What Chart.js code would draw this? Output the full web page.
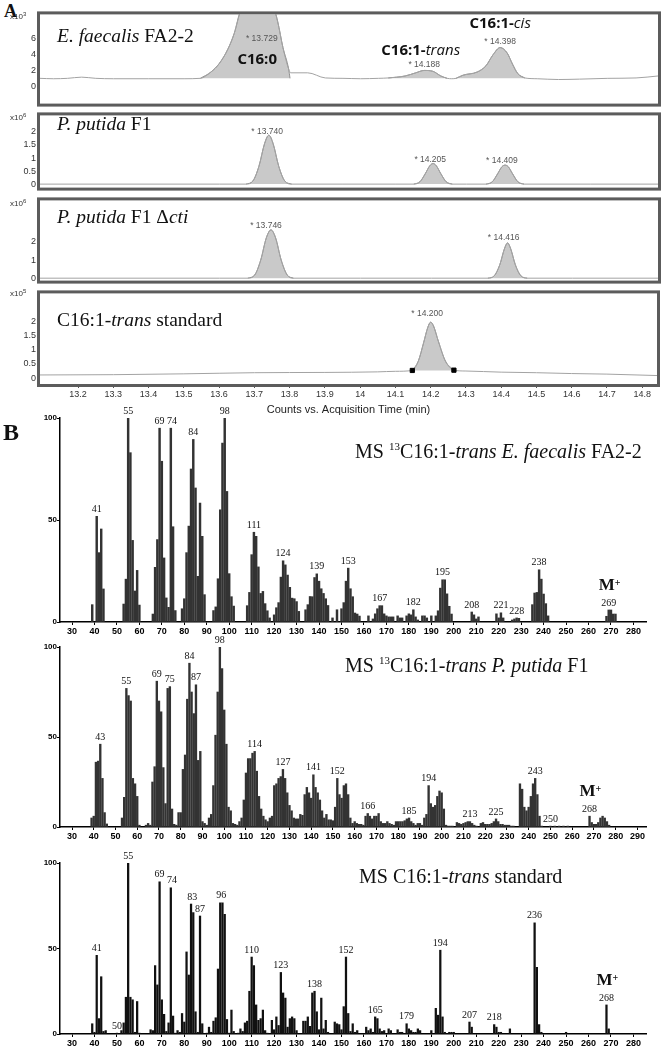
<!DOCTYPE html>
<html>
<head>
<meta charset="utf-8">
<title>GC-MS C16:1-trans</title>
<script src="https://cdn.jsdelivr.net/npm/chart.js@4.4.1/dist/chart.umd.min.js"></script>
<style>
  body { margin: 0; background: #fff; }
  #page { position: relative; width: 662px; height: 1050px; overflow: hidden; }
  canvas { position: absolute; left: 0; }
  .txt { position: absolute; white-space: nowrap; line-height: 1; color: #111; }
  .serif { font-family: "Liberation Serif", "DejaVu Serif", serif; }
  .panel { font-size: 19.5px; }
  .exp { font-family: "Liberation Sans", sans-serif; font-size: 8px; color: #333; }
  .exp sup { font-size: 6px; position: relative; top: -3px; vertical-align: baseline; }
  .ms { font-size: 20px; }
  .ms sup { font-size: 11px; position: relative; top: -8px; vertical-align: baseline; }
</style>
</head>
<body>
<div id="page">
  <div class="txt serif" style="left:4px;top:2px;font-size:18px;font-weight:bold">A</div>

  <canvas id="cA1" width="662" height="102" style="top:8px"></canvas>
  <canvas id="cA2" width="662" height="85" style="top:109px"></canvas>
  <canvas id="cA3" width="662" height="93" style="top:194px"></canvas>
  <canvas id="cA4" width="662" height="130" style="top:287px"></canvas>

  <div class="txt exp" style="left:10px;top:13px">x10<sup>3</sup></div>
  <div class="txt exp" style="left:10px;top:114px">x10<sup>6</sup></div>
  <div class="txt exp" style="left:10px;top:200px">x10<sup>6</sup></div>
  <div class="txt exp" style="left:10px;top:290px">x10<sup>5</sup></div>

  <div class="txt serif panel" style="left:57px;top:26px"><i>E. faecalis</i> FA2-2</div>
  <div class="txt serif panel" style="left:57px;top:114px"><i>P. putida</i> F1</div>
  <div class="txt serif panel" style="left:57px;top:207px"><i>P. putida</i> F1 &Delta;<i>cti</i></div>
  <div class="txt serif panel" style="left:57px;top:310px">C16:1-<i>trans</i> standard</div>

  <div class="txt serif" style="left:3px;top:420px;font-size:24px;font-weight:bold">B</div>

  <canvas id="cB1" width="662" height="250" style="top:398px"></canvas>
  <canvas id="cB2" width="662" height="215" style="top:632px"></canvas>
  <canvas id="cB3" width="662" height="205" style="top:845px"></canvas>

  <div class="txt serif ms" style="left:355px;top:441px">MS <sup>13</sup>C16:1-<i>trans E. faecalis</i> FA2-2</div>
  <div class="txt serif ms" style="left:345px;top:655px">MS <sup>13</sup>C16:1-<i>trans P. putida</i> F1</div>
  <div class="txt serif ms" style="left:359px;top:866px">MS C16:1-<i>trans</i> standard</div>
</div>

<script>
// ---- A: chromatograms, [time (min), counts] ----
const timeTicks = [13.2, 13.3, 13.4, 13.5, 13.6, 13.7, 13.8, 13.9, 14, 14.1, 14.2, 14.3, 14.4, 14.5, 14.6, 14.7, 14.8];

// E. faecalis FA2-2 (x10^3)
const efBase1 = [[13.092, 1.0], [13.13, 0.95], [13.17, 1.0], [13.21, 1.15], [13.25, 1.0], [13.3, 0.95], [13.4, 0.95], [13.5, 0.95]];
const efC160 = [[13.546, 1.0], [13.576, 1.8], [13.6, 2.9], [13.624, 4.7], [13.642, 6.7], [13.66, 9.6], [13.7, 12], [13.75, 10.5], [13.765, 8.2], [13.78, 4.9], [13.796, 2.2], [13.8, 1.0]];
const efBase2 = [[13.802, 1.7], [13.85, 1.7], [13.9, 1.05], [13.95, 1.0], [14.0, 0.95], [14.05, 1.0]];
const efTrans = [[14.078, 1.05], [14.126, 1.3], [14.156, 1.7], [14.18, 2.0], [14.204, 1.9], [14.227, 1.3], [14.245, 1.0]];
const efBase3 = [[14.258, 0.95]];
const efCis = [[14.27, 1.0], [14.29, 1.4], [14.33, 1.8], [14.355, 2.6], [14.375, 4.0], [14.395, 4.9], [14.415, 4.2], [14.43, 2.8], [14.445, 1.6], [14.465, 1.05]];
const efBase4 = [[14.5, 0.95], [14.56, 0.85], [14.62, 0.9], [14.7, 1.0], [14.78, 1.05], [14.842, 1.3]];
const efTicks = [0, 2, 4, 6];
const efNotes = [[13.72, 6.0, '* 13.729'], [14.18, 2.75, '* 14.188'], [14.395, 5.7, '* 14.398']];
const efNames = [[13.707, 3.3, 'C16:0', ''], [14.17, 4.5, 'C16:1-', 'trans'], [14.395, 7.9, 'C16:1-', 'cis']];

// P. putida F1 (x10^6)
const ppPeak1 = [[13.675, 0.03], [13.695, 0.15], [13.712, 0.7], [13.728, 1.55], [13.74, 1.86], [13.752, 1.55], [13.768, 0.7], [13.785, 0.15], [13.805, 0.03]];
const ppPeak2 = [[14.15, 0.03], [14.168, 0.12], [14.183, 0.42], [14.196, 0.72], [14.205, 0.8], [14.214, 0.72], [14.227, 0.42], [14.242, 0.12], [14.26, 0.03]];
const ppPeak3 = [[14.355, 0.03], [14.373, 0.12], [14.388, 0.42], [14.4, 0.68], [14.409, 0.74], [14.418, 0.68], [14.43, 0.42], [14.445, 0.12], [14.463, 0.03]];
const ppTicks = [0, 0.5, 1, 1.5, 2];
const ppNotes = [[13.735, 1.98, '* 13.740'], [14.197, 0.96, '* 14.205'], [14.4, 0.91, '* 14.409']];

// P. putida F1 delta-cti (x10^6)
const ctiPeak1 = [[13.68, 0.03], [13.7, 0.2], [13.717, 1.0], [13.733, 2.2], [13.746, 2.62], [13.759, 2.2], [13.775, 1.0], [13.792, 0.2], [13.81, 0.03]];
const ctiPeak2 = [[14.36, 0.03], [14.378, 0.15], [14.394, 0.75], [14.407, 1.6], [14.416, 1.92], [14.425, 1.6], [14.438, 0.75], [14.454, 0.15], [14.472, 0.03]];
const ctiTicks = [0, 1, 2];
const ctiNotes = [[13.732, 2.85, '* 13.746'], [14.405, 2.2, '* 14.416']];

// C16:1-trans standard (x10^5)
const stdBase1 = [[13.092, 0.11], [13.3, 0.12], [13.5, 0.15], [13.7, 0.19], [13.9, 0.2], [14.05, 0.22], [14.1, 0.24]];
const stdPeak = [[14.148, 0.27], [14.165, 0.6], [14.18, 1.25], [14.192, 1.8], [14.2, 1.98], [14.208, 1.85], [14.222, 1.3], [14.242, 0.6], [14.266, 0.28]];
const stdBase2 = [[14.3, 0.25], [14.4, 0.21], [14.5, 0.19], [14.6, 0.16], [14.7, 0.14], [14.842, 0.09]];
const stdMarks = [[14.148, 0.27], [14.266, 0.28]];
const stdTicks = [0, 0.5, 1, 1.5, 2];
const stdNotes = [[14.19, 2.3, '* 14.200']];

// ---- B: mass spectra, [m/z, relative abundance] ----
const mzTicks280 = [30, 40, 50, 60, 70, 80, 90, 100, 110, 120, 130, 140, 150, 160, 170, 180, 190, 200, 210, 220, 230, 240, 250, 260, 270, 280];
const mzTicks290 = [30, 40, 50, 60, 70, 80, 90, 100, 110, 120, 130, 140, 150, 160, 170, 180, 190, 200, 210, 220, 230, 240, 250, 260, 270, 280, 290];
const abundanceTicks = [0, 50, 100];

const efSpectrum = [[39, 8.5], [41, 51.8], [42, 34], [43, 45.6], [44, 16.2],
  [53, 8.8], [54, 21], [55, 100], [56, 83], [57, 40], [58, 15.2], [59, 25.3], [60, 8.3],
  [66, 3.9], [67, 26.8], [68, 40.4], [69, 95], [70, 78.8], [71, 31.4], [72, 11.8], [73, 7.2], [74, 95], [75, 46.7], [76, 5.6],
  [79, 6.5], [80, 11.4], [81, 34], [82, 47], [83, 75], [84, 89.5], [85, 65.7], [86, 22.4], [87, 58.3], [88, 42], [89, 13.4],
  [93, 5.6], [94, 7.4], [95, 21.2], [96, 55], [97, 87.7], [98, 100], [99, 64], [100, 23.7], [101, 12.4], [102, 7.8],
  [108, 8], [109, 14.5], [110, 33], [111, 44], [112, 42], [113, 27], [114, 14], [115, 15], [116, 9], [117, 5.5], [118, 2],
  [120, 3.5], [121, 7], [122, 9.5], [123, 22], [124, 30], [125, 28], [126, 23], [127, 17], [128, 11.7], [129, 11.4], [130, 10], [131, 5.2],
  [134, 6], [135, 8.5], [136, 12.5], [137, 12.4], [138, 21.8], [139, 23.6], [140, 20], [141, 16.3], [142, 14], [143, 11.4], [144, 8.1],
  [146, 2], [148, 6], [150, 6.5], [151, 9.5], [152, 20], [153, 26.4], [154, 16.3], [155, 12.4], [156, 4.4], [157, 3.9], [158, 2.9],
  [162, 3], [164, 1.5], [165, 4], [166, 6.5], [167, 8], [168, 8], [169, 4], [170, 3], [171, 2.5], [172, 2.5], [173, 2.5],
  [175, 3], [176, 2], [177, 2], [179, 3], [180, 4], [181, 3.5], [182, 6], [183, 2.5], [184, 1], [186, 3], [187, 3], [188, 2], [190, 3], [192, 3],
  [193, 5.5], [194, 16.6], [195, 20.7], [196, 20.7], [197, 13.8], [198, 7.7], [199, 3.9],
  [208, 4.9], [209, 3.5], [210, 1.5], [211, 2.5], [219, 4], [220, 2], [221, 4.5], [222, 2], [226, 1], [227, 1.5], [228, 2], [229, 1.8],
  [235, 8.5], [236, 14.2], [237, 14.5], [238, 25.6], [239, 21], [240, 13.7], [241, 9], [242, 3],
  [268, 2.8], [269, 5.9], [270, 5.9], [271, 3.9], [272, 3.9]];
const efLabels = [41, 55, 69, 74.5, 84, 98, 111, 124, 139, 153, 167, 182, 195, 208, 221, 228, 238, 269];
const efMolIon = 269;

const ppSpectrum = [[39, 5], [40, 6], [41, 36], [42, 36.6], [43, 46], [44, 27], [45, 8], [46, 1.7],
  [53, 5], [54, 16.5], [55, 77], [56, 73], [57, 70], [58, 27], [59, 24], [60, 17], [61, 1],
  [64, 1], [65, 2], [66, 1], [67, 25], [68, 33.5], [69, 81], [70, 70], [71, 64], [72, 33], [73, 13], [74, 77], [75, 78], [76, 10], [77, 1.5], [78, 1],
  [79, 8], [80, 8], [81, 32], [82, 40], [83, 71], [84, 91], [85, 75], [86, 63], [87, 79], [88, 37], [89, 42], [90, 3], [91, 2], [92, 1],
  [93, 5], [94, 7], [95, 23], [96, 51], [97, 75], [98, 100], [99, 88], [100, 65], [101, 46], [102, 11], [103, 9], [104, 2], [105, 1.5], [106, 1],
  [107, 3], [108, 5], [109, 15], [110, 30], [111, 38], [112, 38], [113, 41], [114, 42], [115, 31], [116, 17], [117, 10], [118, 6], [119, 4], [120, 3],
  [121, 5], [122, 6], [123, 23], [124, 24], [125, 27], [126, 28], [127, 32], [128, 27], [129, 19], [130, 12], [131, 9], [132, 5], [133, 4.5], [134, 4.5],
  [135, 7], [136, 6.5], [137, 18], [138, 22], [139, 19], [140, 16], [141, 29], [142, 22], [143, 19], [144, 15], [145, 9], [146, 5], [147, 7], [148, 4], [149, 4], [150, 3.5],
  [151, 11], [152, 27], [153, 18], [154, 16], [155, 23], [156, 24], [157, 18], [158, 5], [159, 2], [160, 3], [161, 2], [162, 1.5], [163, 1.5], [164, 1],
  [165, 6], [166, 7.5], [167, 6], [168, 4.5], [169, 6], [170, 6], [171, 7.5], [172, 3], [173, 2], [174, 2], [175, 3], [176, 2], [177, 1.5], [178, 1],
  [179, 3], [180, 3], [181, 3], [182, 3], [183, 3.5], [184, 4.5], [185, 5], [186, 3], [187, 2], [188, 1], [189, 2], [190, 2], [191, 1],
  [192, 5], [193, 7], [194, 23], [195, 13], [196, 11], [197, 12], [198, 17], [199, 20], [200, 19], [201, 10], [202, 1], [203, 0.5], [204, 0.5], [205, 0.5],
  [207, 2.5], [208, 2], [209, 1.5], [210, 2], [211, 2.5], [212, 3], [213, 3], [214, 2], [215, 1], [216, 0.5],
  [218, 2], [219, 2.5], [220, 1.5], [221, 1.5], [222, 1.5], [223, 2], [224, 3], [225, 4.5], [226, 3], [227, 1.5], [228, 1.5], [229, 1], [230, 1], [231, 1], [232, 0.5], [233, 0.5],
  [236, 24], [237, 21], [238, 11], [239, 9], [240, 11], [241, 17], [242, 24], [243, 27], [244, 18], [245, 6], [246, 0.5],
  [250, 0.5], [252, 0.5], [254, 0.5], [256, 0.5], [258, 0.5],
  [268, 6], [269, 2.5], [270, 1.5], [271, 1.5], [272, 2.5], [273, 5], [274, 6], [275, 5], [276, 3], [277, 1]];
const ppLabels = [43, 55, 69, 75, 84, 87, 98, 114, 127, 141, 152, 166, 185, 194, 213, 225, 243, 250, 268];
const ppMolIon = 268;

const stdSpectrum = [[39, 6], [40, 1], [41, 46], [42, 9], [43, 33.5], [44, 1.5], [45, 2],
  [50, 0.5], [52, 2], [53, 6.5], [54, 21.5], [55, 100], [56, 21.5], [57, 20], [58, 1], [59, 19], [60, 0.5],
  [65, 2.5], [66, 2], [67, 40], [68, 28.7], [69, 89], [70, 20], [71, 11.5], [72, 1.5], [73, 6.5], [74, 85.5], [75, 10.5], [76, 0.5], [77, 2], [78, 1],
  [79, 12], [80, 7], [81, 48], [82, 34.5], [83, 76], [84, 71], [85, 13], [86, 1], [87, 69], [88, 6],
  [90, 0.5], [91, 4], [92, 1], [93, 7.5], [94, 9.5], [95, 38], [96, 76.7], [97, 76.7], [98, 70], [99, 8.5], [100, 0.5], [101, 14], [102, 1.5],
  [104, 0.5], [105, 3], [106, 1.5], [107, 6.5], [108, 7.5], [109, 25], [110, 45], [111, 40], [112, 17], [113, 8], [114, 9], [115, 14], [116, 2], [117, 0.5],
  [119, 8], [120, 2.5], [121, 10], [122, 5], [123, 36], [124, 24], [125, 21], [126, 4], [127, 9], [128, 10], [129, 9], [130, 2],
  [133, 7.5], [134, 7.5], [135, 10], [136, 4.5], [137, 24], [138, 25], [139, 13], [140, 2.5], [141, 21], [142, 3], [143, 8], [144, 1],
  [147, 7], [148, 6], [149, 5.5], [150, 2.5], [151, 16], [152, 45], [153, 12], [154, 1.5], [155, 6], [156, 1], [157, 2],
  [161, 4], [162, 2], [163, 3], [164, 1], [165, 10], [166, 9], [167, 3], [168, 1.5], [169, 2], [171, 3], [172, 2],
  [175, 2.5], [176, 1], [177, 1], [179, 6], [180, 3], [181, 2], [182, 1], [183, 1], [184, 3], [185, 2], [190, 2],
  [192, 15], [193, 11], [194, 49], [195, 10], [196, 1], [198, 1], [199, 1], [200, 1],
  [207, 7], [208, 4], [218, 5.5], [219, 4], [220, 1], [221, 1], [225, 3],
  [236, 65], [237, 39], [238, 5.5], [239, 1], [250, 1], [268, 17], [269, 3]];
const stdLabels = [41, 50, 55, 69, 74.5, 83.5, 87, 96.5, 110, 123, 138, 152, 165, 179, 194, 207, 218, 236, 268];
const stdMolIon = 268;

function pts(list) {
    return list.map(p => ({ x: p[0], y: p[1] }));
}

const framePlugin = {
    id: 'frame',
    afterDraw(chart) {
        const { ctx, chartArea: a } = chart;
        ctx.save();
        ctx.strokeStyle = '#5c5c5c';
        ctx.lineWidth = 3;
        ctx.strokeRect(a.left - 1.5, a.top - 1.5, a.right - a.left + 3, a.bottom - a.top + 3);
        ctx.restore();
    }
};

// retention time notes and peak names, placed with the chart's own scales
function notesPlugin(notes, names) {
    return {
        id: 'notes',
        afterDatasetsDraw(chart) {
            const { ctx, scales: { x, y } } = chart;
            ctx.save();
            ctx.textBaseline = 'middle';
            ctx.textAlign = 'center';
            ctx.font = '8.5px "Liberation Sans", sans-serif';
            ctx.fillStyle = '#555';
            notes.forEach(n => ctx.fillText(n[2], x.getPixelForValue(n[0]), y.getPixelForValue(n[1])));
            const f1 = 'bold 15px "Open Sans", sans-serif';
            const f2 = 'italic 15px "Open Sans", sans-serif';
            ctx.textAlign = 'left';
            ctx.fillStyle = '#111';
            names.forEach(n => {
                ctx.font = f1;
                const w1 = ctx.measureText(n[2]).width;
                ctx.font = f2;
                const w2 = ctx.measureText(n[3]).width;
                const px = x.getPixelForValue(n[0]) - (w1 + w2) / 2;
                const py = y.getPixelForValue(n[1]);
                ctx.font = f1;
                ctx.fillText(n[2], px, py);
                ctx.font = f2;
                ctx.fillText(n[3], px + w1, py);
            });
            ctx.restore();
        }
    };
}

function traceSet(list) {
    return {
        data: pts(list), borderColor: '#a3a3a3', borderWidth: 1, pointRadius: 0,
        fill: false, cubicInterpolationMode: 'monotone', order: 1
    };
}

function peakSet(list, base) {
    return {
        data: pts(list), borderColor: '#8f8f8f', borderWidth: 1, pointRadius: 0,
        backgroundColor: '#c9c9c9', fill: { value: base }, cubicInterpolationMode: 'monotone', order: 2
    };
}

function chromChart(id, datasets, yMin, yMax, yTicks, notes, names, showX) {
    return new Chart(document.getElementById(id), {
        type: 'line',
        data: { datasets: datasets },
        options: {
            responsive: false,
            animation: false,
            devicePixelRatio: 1,
            layout: { padding: { top: 4, bottom: showX ? 0 : 4, left: 0, right: 4 } },
            plugins: { legend: { display: false }, tooltip: { enabled: false } },
            scales: {
                x: {
                    type: 'linear', min: 13.092, max: 14.842, display: showX,
                    afterBuildTicks: s => { s.ticks = timeTicks.map(v => ({ value: v })); },
                    afterFit: s => { s.height = showX ? 33 : 0; },
                    ticks: {
                        font: { family: 'Liberation Sans Narrow, Liberation Sans', size: 9 }, color: '#333',
                        padding: 1, maxRotation: 0, autoSkip: false,
                        callback: v => String(Math.round(v * 10) / 10)
                    },
                    grid: { drawOnChartArea: false, tickLength: 4, color: '#555' },
                    border: { display: false },
                    title: {
                        display: true, text: 'Counts vs. Acquisition Time (min)', color: '#222',
                        font: { family: 'Liberation Sans', size: 11 }, padding: { top: 1, bottom: 0 }
                    }
                },
                y: {
                    min: yMin, max: yMax,
                    afterBuildTicks: s => { s.ticks = yTicks.map(v => ({ value: v })); },
                    afterFit: s => { s.width = 40; },
                    ticks: {
                        font: { family: 'Liberation Sans', size: 9 }, color: '#333', padding: 1,
                        autoSkip: false, callback: v => String(v)
                    },
                    grid: { drawOnChartArea: false, tickLength: 3, color: '#555' },
                    border: { display: false }
                }
            }
        },
        plugins: [framePlugin, notesPlugin(notes, names)]
    });
}

// A1: E. faecalis
chromChart('cA1', [
    traceSet([...efBase1, ...efC160.slice(0, -1), ...efBase2, ...efTrans, ...efBase3, ...efCis, ...efBase4]),
    peakSet(efC160, 1.0), peakSet(efTrans, 1.0), peakSet(efCis, 1.0)
], -2.2, 9.1, efTicks, efNotes, efNames, false);

// A2: P. putida F1
chromChart('cA2', [
    traceSet([[13.092, 0.03], [13.6, 0.03], ...ppPeak1, [13.95, 0.03], [14.1, 0.03], ...ppPeak2, [14.3, 0.03], ...ppPeak3, [14.65, 0.03], [14.842, 0.03]]),
    peakSet(ppPeak1, 0.03), peakSet(ppPeak2, 0.03), peakSet(ppPeak3, 0.03)
], -0.1, 2.6, ppTicks, ppNotes, [], false);

// A3: P. putida F1 delta-cti
chromChart('cA3', [
    traceSet([[13.092, 0.03], [13.6, 0.03], ...ctiPeak1, [14.0, 0.03], [14.2, 0.03], ...ctiPeak2, [14.6, 0.03], [14.842, 0.03]]),
    peakSet(ctiPeak1, 0.03), peakSet(ctiPeak2, 0.03)
], -0.1, 4.2, ctiTicks, ctiNotes, [], false);

// A4: standard, with integration markers
chromChart('cA4', [
    traceSet([...stdBase1, ...stdPeak, ...stdBase2]),
    peakSet(stdPeak, 0.27),
    {
        data: pts(stdMarks), showLine: false, pointStyle: 'rect', pointRadius: 3,
        pointBackgroundColor: '#000', pointBorderColor: '#000', order: 0
    }
], -0.21, 3.0, stdTicks, stdNotes, [], true);

// peak m/z labels and molecular ion, placed on the bars through the scales
function peakLabelPlugin(spectrum, labels, molIon) {
    const heights = new Map(spectrum);
    const h = m => Math.max(heights.get(Math.floor(m)) || 0, heights.get(Math.ceil(m)) || 0);
    return {
        id: 'peakLabels',
        afterDatasetsDraw(chart) {
            const { ctx, scales: { x, y } } = chart;
            ctx.save();
            ctx.fillStyle = '#111';
            ctx.textAlign = 'center';
            ctx.textBaseline = 'bottom';
            ctx.font = '10px "Liberation Serif", serif';
            labels.forEach(m => {
                ctx.fillText(String(Math.floor(m)), x.getPixelForValue(m), y.getPixelForValue(h(m)) - 2);
            });
            const mx = x.getPixelForValue(molIon);
            const my = y.getPixelForValue(h(molIon)) - 16;
            ctx.font = 'bold 17px "Liberation Serif", serif';
            const wm = ctx.measureText('M').width;
            ctx.textAlign = 'left';
            ctx.fillText('M', mx - wm / 2 - 2, my);
            ctx.font = 'bold 10px "Liberation Serif", serif';
            ctx.fillText('+', mx + wm / 2 - 2, my - 6);
            ctx.restore();
        }
    };
}

function specChart(id, spectrum, labels, molIon, xMin, xMax, xTicks, color, thick, padTop, xHeight) {
    return new Chart(document.getElementById(id), {
        type: 'bar',
        data: {
            datasets: [{ data: pts(spectrum), backgroundColor: color, borderWidth: 0, barThickness: thick }]
        },
        options: {
            responsive: false,
            animation: false,
            devicePixelRatio: 1,
            layout: { padding: { top: padTop, right: 16, left: 0, bottom: 0 } },
            plugins: { legend: { display: false }, tooltip: { enabled: false } },
            scales: {
                x: {
                    type: 'linear', min: xMin, max: xMax, offset: false,
                    afterBuildTicks: s => { s.ticks = xTicks.map(v => ({ value: v })); },
                    afterFit: s => { s.height = xHeight; },
                    ticks: {
                        font: { family: 'Liberation Sans', size: 9, weight: 'bold' }, color: '#000',
                        padding: 1, maxRotation: 0, autoSkip: false
                    },
                    grid: { drawOnChartArea: false, offset: false, tickLength: 3, color: '#000' },
                    border: { color: '#000', width: 1.5 }
                },
                y: {
                    min: 0, max: 100,
                    afterBuildTicks: s => { s.ticks = abundanceTicks.map(v => ({ value: v })); },
                    afterFit: s => { s.width = 60; },
                    ticks: { font: { family: 'Liberation Sans', size: 8, weight: 'bold' }, color: '#000', padding: 0 },
                    grid: { drawOnChartArea: false, tickLength: 3, color: '#000' },
                    border: { color: '#000', width: 1.5 }
                }
            }
        },
        plugins: [peakLabelPlugin(spectrum, labels, molIon)]
    });
}

specChart('cB1', efSpectrum, efLabels, efMolIon, 24.65, 285.6, mzTicks280, '#333', 1.8, 20, 26);
specChart('cB2', ppSpectrum, ppLabels, ppMolIon, 24.48, 293.96, mzTicks290, '#333', 1.7, 15, 20);
specChart('cB3', stdSpectrum, stdLabels, stdMolIon, 24.65, 285.6, mzTicks280, '#111', 1.6, 18, 16);
</script>
</body>
</html>
